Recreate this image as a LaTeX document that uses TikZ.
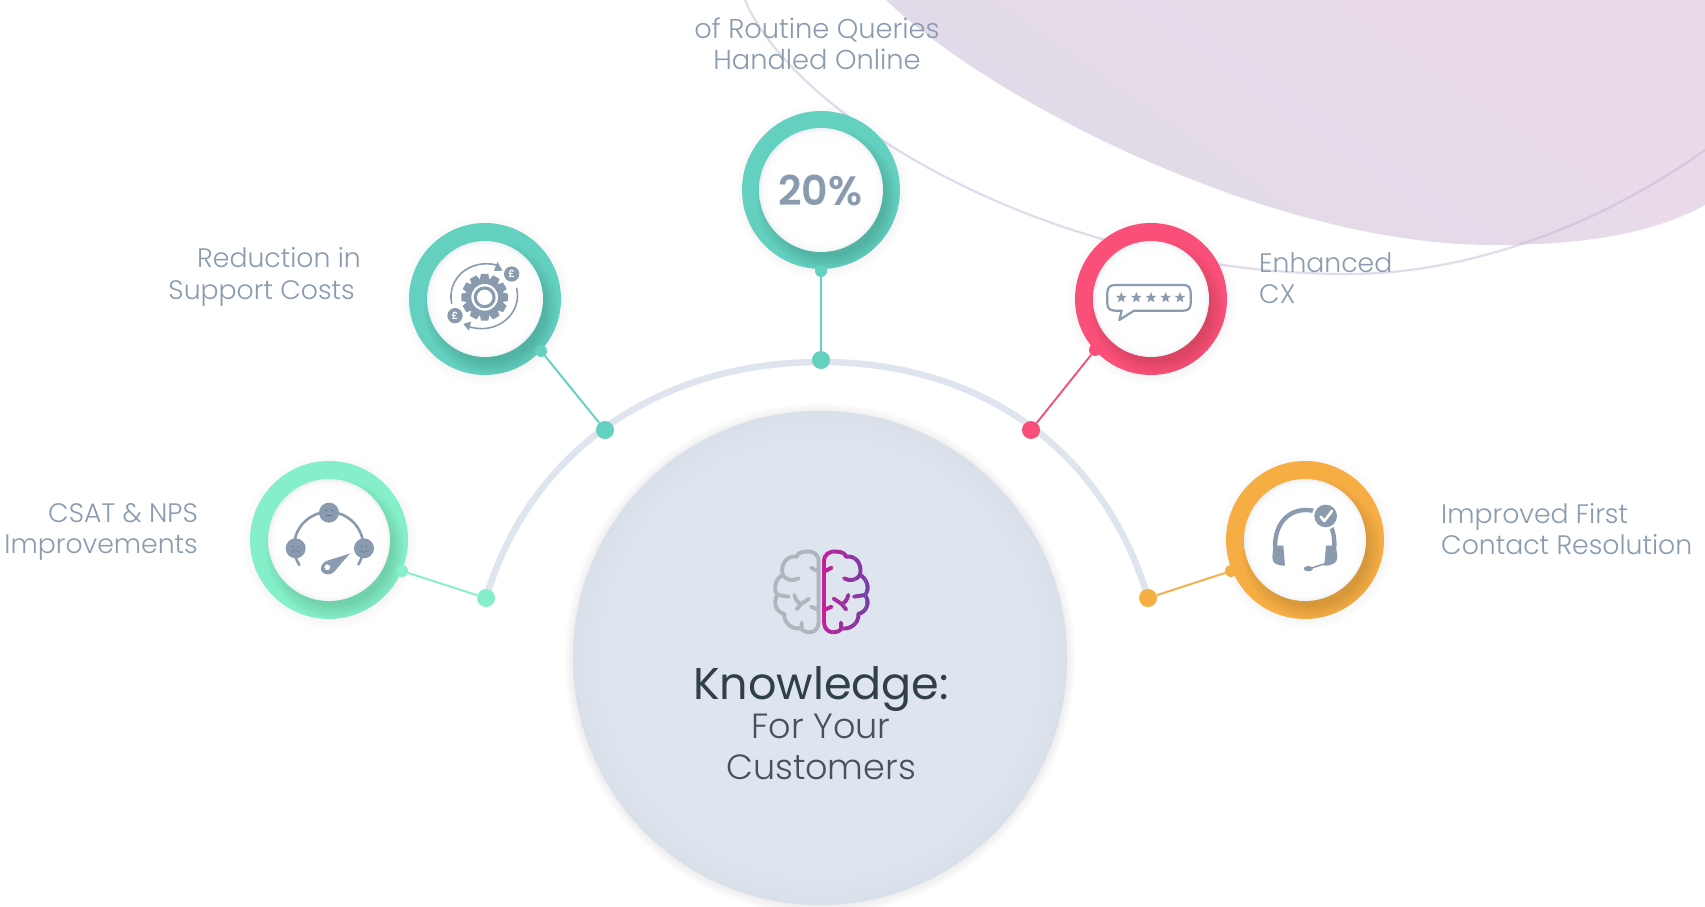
\documentclass[tikz,border=0pt]{standalone}
\usepackage{fontspec}
\setmainfont{Poppins Light}
\newfontfamily\midfam{Poppins}
\newfontfamily\boldfam{Poppins SemiBold}
\usetikzlibrary{arrows.meta}
\definecolor{slate}{HTML}{8A9BB0}
\definecolor{arcgrey}{HTML}{DFE5EE}
\definecolor{rimgrey}{HTML}{D9E0E9}
\definecolor{teal1}{HTML}{64D0C0}
\definecolor{mint1}{HTML}{84EFC8}
\definecolor{pink1}{HTML}{F94F78}
\definecolor{orange1}{HTML}{F5AD44}
\definecolor{ink}{HTML}{2F3F4B}
\definecolor{ink2}{HTML}{44525E}
\definecolor{blobtop}{HTML}{EADAE9}
\definecolor{blobbot}{HTML}{E0DAE8}
\definecolor{hairline}{HTML}{BFB0D2}
\definecolor{braingrey}{HTML}{B0B6BD}
\definecolor{brainA}{HTML}{C4209B}
\definecolor{brainB}{HTML}{6F3FA8}
\pgfdeclareradialshading{softwhite}{\pgfpoint{0bp}{0bp}}{color(0bp)=(white); color(20bp)=(white); color(23.5bp)=(white!97!slate); color(25bp)=(white!84!slate); color(50bp)=(white!84!slate)}
\pgfdeclareradialshading{hubfill}{\pgfpoint{0bp}{0bp}}{color(0bp)=(arcgrey); color(21.5bp)=(arcgrey); color(25bp)=(rimgrey); color(50bp)=(rimgrey)}
\tikzset{
  lbl/.style={text=slate,font=\fontsize{26.7}{31.5}\selectfont,inner sep=0pt},
  ringnode/.style={circle,inner sep=0pt,minimum size=#1,draw=none},
  bigdot/.style={circle,inner sep=0pt,minimum size=18pt,fill=#1},
  smalldot/.style={circle,inner sep=0pt,minimum size=12pt,fill=#1},
  link/.style={draw=#1,line width=1.9pt},
  ic/.style={draw=slate,line cap=round,line join=round},
  br/.style={line width=3.9pt,line cap=round,line join=round}
}
\newcommand{\softshadow}[6]{% x y r dx dy opacity
  \foreach \k in {1,...,8}{\fill[black,opacity=#6] (#1+#4,#2+#5) circle ({#3+\k*1.1});}
}
\newcommand{\ring}[6]{% name x y router rinner colour
  \softshadow{#2}{#3}{#4}{1}{2}{0.004}
  \node[ringnode=#4*2pt,fill=#6] (#1) at (#2,#3) {};
  \begin{scope}
    \clip (#2,#3) circle (#4);
    \foreach \k in {1,...,10}{\fill[black,opacity=0.011] (#2+6,#3+9) circle ({#5-6+\k*1.5});}
  \end{scope}
  \shade[shading=softwhite] (#2,#3) circle (#5);
}
\newcommand{\pstar}[3]{\fill[slate,shift={(#1,#2)}]
  (-90:#3)--(-54:#3*.42)--(-18:#3)--(18:#3*.42)--(54:#3)--(90:#3*.42)--(126:#3)--(162:#3*.42)--(198:#3)--(234:#3*.42)--cycle;}
\newcommand{\brainpath}{%
  (252,155)--(252,125) .. controls (252,103) and (268,92) .. (290,95) .. controls (305,95) and (315,100) .. (318,110)
  .. controls (345,105) and (368,130) .. (360,165) .. controls (378,172) and (392,205) .. (375,225)
  .. controls (390,245) and (382,275) .. (355,282) .. controls (358,305) and (335,330) .. (305,325)
  .. controls (295,342) and (252,345) .. (252,305) -- (252,155)
  (252,155)--(275,143)
  (312,175) .. controls (330,185) and (350,180) .. (360,165)
  (342,230)--(375,225)
  (281,236)--(305,252) (325,225) .. controls (322,240) and (312,250) .. (305,252) (305,252)--(318,268)
  (252,270)--(275,260)
  (303,325)--(303,308)
}
\begin{document}
\begin{tikzpicture}[x=1pt,y=-1pt]
\useasboundingbox (0,0) rectangle (1705,907);
\fill[white] (0,0) rectangle (1705,907);
% background blob
\begin{scope}
\clip (0,0) rectangle (1705,907);
\shade[left color=blobtop,right color=blobbot,shading angle=-35] (886,0) .. controls (990,100) and (1270,245) .. (1493,245)
  .. controls (1580,245) and (1650,235) .. (1705,205) -- (1705,0) -- cycle;
\draw[hairline,opacity=.45,line width=2.2pt] (745,0) .. controls (790,110) and (1040,274) .. (1348,274)
  .. controls (1470,274) and (1600,225) .. (1705,150);
\end{scope}
% central arc
\draw[arcgrey,line width=6.5pt] (486,598) .. controls (530,450) and (660,362) .. (821,362) .. controls (982,362) and (1104,450) .. (1148,598);
% big circle
\softshadow{820}{658}{247}{0}{1}{0.009}
\node[circle,inner sep=0pt,minimum size=494pt,fill=arcgrey] (hub) at (820,658) {};
\shade[shading=hubfill] (820,658) circle (247);
% rings
\ring{rtop}{821}{190}{79}{62}{teal1}
\ring{rleft}{485}{299}{76}{58}{teal1}
\ring{rpink}{1151}{299}{76}{58}{pink1}
\ring{rmint}{329}{540}{79}{61}{mint1}
\ring{rorange}{1305}{540}{79}{61}{orange1}
% dots and links
\node[smalldot=teal1] (s1) at (821,271) {};
\node[bigdot=teal1] (b1) at (821,360) {};
\draw[link=teal1] (s1)--(b1);
\node[smalldot=teal1] (s2) at (541,351) {};
\node[bigdot=teal1] (b2) at (605,430) {};
\draw[link=teal1] (s2)--(b2);
\node[smalldot=pink1] (s3) at (1095,350) {};
\node[bigdot=pink1] (b3) at (1031,430) {};
\draw[link=pink1] (s3)--(b3);
\node[smalldot=mint1] (s4) at (402,571) {};
\node[bigdot=mint1] (b4) at (486,598) {};
\draw[link=mint1] (s4)--(b4);
\node[smalldot=orange1] (s5) at (1231,571) {};
\node[bigdot=orange1] (b5) at (1148,598) {};
\draw[link=orange1] (s5)--(b5);
% labels
\node[lbl,font=\fontsize{27.3}{31.5}\selectfont,align=center] (t1) at (817,44) {of Routine Queries\\Handled Online};
\node[lbl,align=right,anchor=east] (t2) at (361,277) {Reduction in\\Support Costs\hspace*{6pt}};
\node[lbl,align=right,anchor=east] (t3) at (198,532) {CSAT \& NPS\\Improvements};
\node[lbl,align=left,anchor=west] (t4) at (1259,278) {Enhanced\\CX};
\node[lbl,align=left,anchor=west] (t5) at (1441,529) {Improved First\\Contact Resolution};
\node[text=slate,font=\boldfam\fontsize{41}{41}\selectfont,inner sep=0pt] (pct) at (820,190) {20\%};
\node[text=ink,font=\midfam\fontsize{44.5}{44.5}\selectfont,inner sep=0pt] (k1) at (821,689) {Knowledge:};
\node[text=ink2,font=\fontsize{35}{40.5}\selectfont,inner sep=0pt,align=center] (k2) at (821,747) {For Your\\Customers};
% brain
\begin{scope}[shift={(740,520)},x=0.3333pt,y=-0.3333pt]
  \begin{scope}[xshift=162.67pt,xscale=-1]
    \draw[br,draw=braingrey] \brainpath;
  \end{scope}
  \foreach \i [evaluate=\i as \m using {100-\i*100/13}] in {0,...,13}{
    \begin{scope}
      \clip ({244+\i*11},80) rectangle ({244+\i*11+12},350);
      \colorlet{cc}{brainA!\m!brainB}
      \draw[br,draw=cc] \brainpath;
    \end{scope}
  }
\end{scope}
% gear icon
\begin{scope}[shift={(400,220)},x=0.3333pt,y=-0.3333pt]
  \fill[slate] (254,232) circle (56);
  \foreach \a in {0,30,...,330}{
    \fill[slate,shift={(254,232)},rotate=\a] (-11,-70) -- (11,-70) -- (15,-50) -- (-15,-50) -- cycle;
  }
  \fill[white] (254,232) circle (40);
  \fill[slate] (254,232) circle (33);
  \fill[white] (254,232) circle (23);
  \draw[ic,line width=1.6pt] (155,250) .. controls (140,180) and (205,115) .. (290,135);
  \fill[slate] (308,152) -- (282,153) -- (292,126) -- cycle;
  \draw[ic,line width=1.6pt] (350,205) .. controls (368,280) and (290,350) .. (200,318);
  \fill[slate] (190,312) -- (213,305) -- (207,332) -- cycle;
  \fill[slate] (335,162) circle (23);
  \fill[slate] (165,287) circle (23);
  \node[text=white,inner sep=0pt,font=\boldfam\fontsize{10}{10}\selectfont] (p1) at (335,162) {£};
  \node[text=white,inner sep=0pt,font=\boldfam\fontsize{10}{10}\selectfont] (p2) at (165,287) {£};
\end{scope}
% review icon
\begin{scope}[shift={(1070,220)},x=0.3333pt,y=-0.3333pt]
  \draw[ic,line width=2.2pt] (135,195) -- (340,195) .. controls (355,195) and (362,203) .. (362,218) -- (362,250)
    .. controls (362,265) and (355,272) .. (340,272) -- (192,272) -- (148,300) -- (155,272) -- (135,272)
    .. controls (120,272) and (112,265) .. (112,250) -- (112,218) .. controls (112,203) and (120,195) .. (135,195) -- cycle;
  \pstar{154}{233}{17}\pstar{199}{233}{17}\pstar{243}{233}{17}\pstar{287}{233}{17}\pstar{330}{233}{17}
\end{scope}
% gauge icon
\begin{scope}[shift={(240,450)},x=0.3333pt,y=-0.3333pt]
  \draw[ic,line width=2.6pt] (178,345) arc (148:391:104);
  \fill[slate] (267,188) circle (30);
  \fill[slate] (167,295) circle (30);
  \fill[slate] (372,295) circle (30);
  \draw[draw=slate!75!black,line width=.5pt] (256,182)--(262,182) (272,182)--(278,182) (258,197)--(276,197);
  \draw[draw=slate!75!black,line width=.5pt] (156,290)--(162,290) (172,290)--(178,290) (157,307) .. controls (162,298) and (172,298) .. (177,307);
  \draw[draw=slate!75!black,line width=.5pt] (361,290)--(367,290) (377,290)--(383,290) (362,300) .. controls (367,309) and (377,309) .. (382,300);
  \fill[slate,even odd rule] (332,310) -- (268,330) .. controls (240,335) and (232,370) .. (262,373) .. controls (285,375) and (290,350) .. cycle
     (262,352) circle (9);
\end{scope}
% headset icon
\begin{scope}[shift={(1220,450)},x=0.3333pt,y=-0.3333pt]
  \draw[draw=slate,line width=4.4pt] (165,290) .. controls (165,220) and (205,180) .. (258,180) .. controls (310,180) and (345,220) .. (343,290);
  \fill[slate] (160,287) -- (190,287) -- (195,347) .. controls (170,347) and (157,340) .. (157,322) -- cycle;
  \fill[slate] (318,287) -- (348,287) -- (352,322) .. controls (352,340) and (335,347) .. (313,347) -- cycle;
  \draw[draw=slate,line width=1.5pt] (318,340) -- (275,354);
  \fill[slate] (265,356) ellipse (14 and 8);
  \fill[white] (317,198) circle (41);
  \fill[slate] (317,198) circle (34);
  \draw[draw=white,line width=2.6pt,line cap=round,line join=round] (302,200) -- (313,213) -- (336,183);
\end{scope}
\end{tikzpicture}
\end{document}
